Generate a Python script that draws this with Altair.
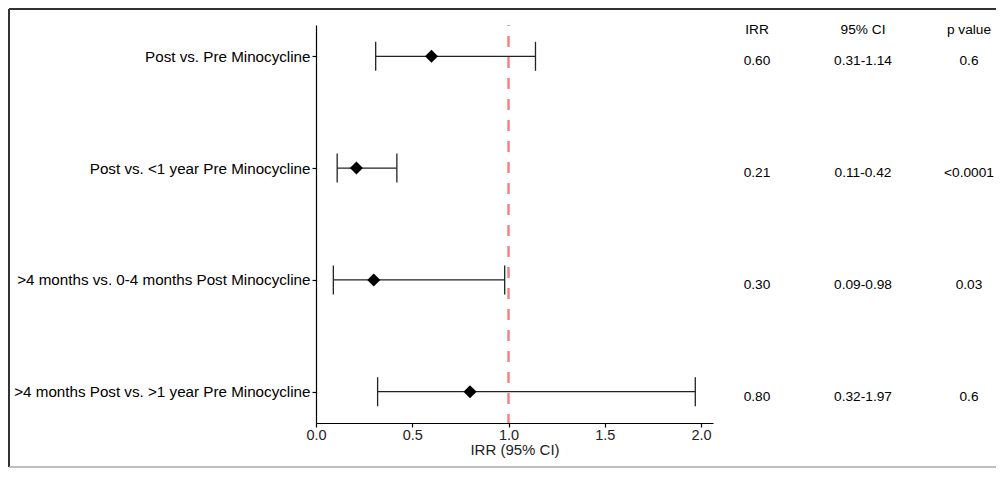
import altair as alt
import pandas as pd

# ---- data ----
labels = [
    "Post vs. Pre Minocycline",
    "Post vs. <1 year Pre Minocycline",
    ">4 months vs. 0-4 months Post Minocycline",
    ">4 months Post vs. >1 year Pre Minocycline",
]
irr = [0.60, 0.21, 0.30, 0.80]
ci_low = [0.31, 0.11, 0.09, 0.32]
ci_high = [1.14, 0.42, 0.98, 1.97]

irr_text = ["0.60", "0.21", "0.30", "0.80"]
ci_text = ["0.31-1.14", "0.11-0.42", "0.09-0.98", "0.32-1.97"]
p_text = ["0.6", "<0.0001", "0.03", "0.6"]
columns = ["IRR", "95% CI", "p value"]

x_ticks = [0.0, 0.5, 1.0, 1.5, 2.0]
ref_value = [1.0]

FONT = "Liberation Sans"
W, H = 397, 398
YPAD = 0.28

df = pd.DataFrame({"label": labels, "irr": irr, "lo": ci_low, "hi": ci_high})

yscale = alt.Scale(type="point", padding=YPAD)
yaxis = alt.Axis(title=None, labelFontSize=15.2, labelColor="black", labelFont=FONT,
                 tickSize=4, labelPadding=2, domainColor="black", tickColor="black",
                 domainWidth=1.2, tickWidth=1.2, labelLimit=400)
xscale = alt.Scale(domain=[0, 2.062], nice=False, zero=False)
xaxis = alt.Axis(values=x_ticks, format=".1f", title="IRR (95% CI)", grid=False,
                 labelFontSize=14.5, labelColor="#222", labelFont=FONT, labelFlush=False,
                 titleFontSize=15, titleFont=FONT, titleFontWeight="normal", titleColor="#222",
                 tickSize=4, labelPadding=1, titlePadding=1, domainColor="black", tickColor="black",
                 domainWidth=1.2, tickWidth=1.2)

base = alt.Chart(df)
Y = alt.Y("label:N", sort=labels, scale=yscale, axis=yaxis)

ref = alt.Chart(pd.DataFrame({"ref": ref_value})).mark_rule(
    color="#F08585", strokeWidth=2.5, strokeDash=[11, 10], strokeDashOffset=10
).encode(x=alt.X("ref:Q", scale=xscale, axis=xaxis))

bars = base.mark_rule(color="#222", strokeWidth=1.3).encode(
    x=alt.X("lo:Q", scale=xscale, axis=xaxis), x2="hi:Q", y=Y)
cap_lo = base.mark_tick(color="#222", thickness=1.3, size=29, opacity=1).encode(x="lo:Q", y=Y)
cap_hi = base.mark_tick(color="#222", thickness=1.3, size=29, opacity=1).encode(x="hi:Q", y=Y)
pts = base.mark_point(shape="diamond", filled=True, color="black", size=170, opacity=1).encode(
    x="irr:Q", y=Y)

one = pd.DataFrame({"k": [0]})
frame_top = alt.Chart(one).mark_rule(color="#333", strokeWidth=2).encode(
    x=alt.value(-307), x2=alt.value(680), y=alt.value(-16))
frame_left = alt.Chart(one).mark_rule(color="#333", strokeWidth=2).encode(
    x=alt.value(-307), y=alt.value(-16), y2=alt.value(442))
frame_bottom = alt.Chart(one).mark_rule(color="#aaa", strokeWidth=1.5).encode(
    x=alt.value(-307), x2=alt.value(680), y=alt.value(442))

forest = alt.layer(ref, bars, cap_lo, cap_hi, pts, frame_top, frame_left, frame_bottom).properties(
    width=W, height=H)

# ---- table ----
rows = []
for i in range(len(labels)):
    for j, txt in enumerate([irr_text[i], ci_text[i], p_text[i]]):
        rows.append({"col": j, "row": i + 1, "text": txt})
tdf = pd.DataFrame(rows)
hdf = pd.DataFrame({"col": list(range(len(columns))), "row": [1 - YPAD] * len(columns), "text": columns})

tx = alt.X("col:Q", scale=alt.Scale(domain=[-0.415, 2.236], nice=False, zero=False), axis=None)
ty = alt.Y("row:Q", scale=alt.Scale(domain=[1 - YPAD, len(labels) + YPAD], nice=False, zero=False,
                                     reverse=True), axis=None)
cells = alt.Chart(tdf).mark_text(font=FONT, fontSize=13.7, color="black", baseline="middle",
                                 align="center", dy=5).encode(x=tx, y=ty, text="text:N")
heads = alt.Chart(hdf).mark_text(font=FONT, fontSize=13.7, color="black", baseline="middle",
                                 align="center", dy=5).encode(x=tx, y=ty, text="text:N")
table = alt.layer(cells, heads).properties(width=281, height=H)

chart = alt.hconcat(forest, table, spacing=0, bounds="flush").properties(
    padding={"left": 0, "top": 0, "right": 0, "bottom": 0}
).configure_view(stroke=None)

chart.save("out.html", embed_options={"renderer": "svg", "actions": False})
